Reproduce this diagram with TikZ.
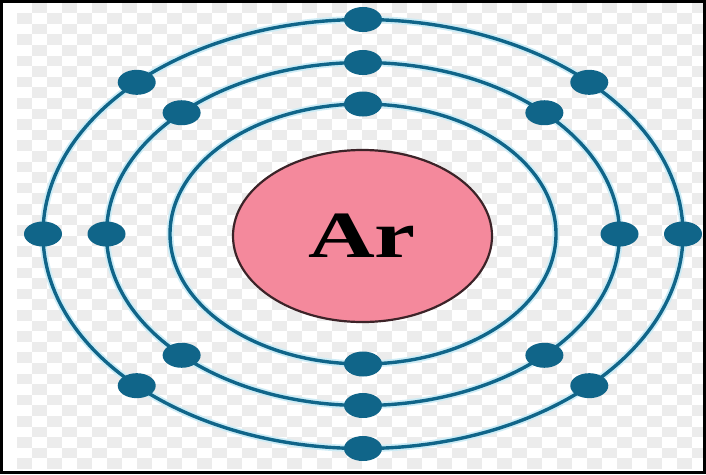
\documentclass[tikz,border=0pt]{standalone}
\usepackage{fontspec}
\newfontfamily\arfont{Liberation Serif}
\usetikzlibrary{shapes.geometric}
\definecolor{teal1}{RGB}{16,101,137}
\definecolor{halo}{RGB}{205,236,246}
\definecolor{pinkn}{RGB}{244,137,156}
\definecolor{rimn}{RGB}{60,35,40}
\definecolor{checkg}{RGB}{236,236,236}
\tikzset{
  orbit/.style={draw=teal1, line width=3.4pt},
  orbithalo/.style={draw=halo, line width=7pt},
  electron/.style={ellipse, fill=teal1, minimum width=38pt, minimum height=25pt, inner sep=0pt},
  nucleus/.style={ellipse, fill=pinkn, draw=rimn, line width=2.2pt, minimum width=259pt, minimum height=172pt, inner sep=0pt},
  checker/.style={fill=checkg},
}
\begin{document}
\begin{tikzpicture}[x=1pt,y=-1pt]
\useasboundingbox (0,0) rectangle (706,474);
\fill[white] (0,0) rectangle (706,474);
% checkerboard background
\foreach \i in {0,...,45}{
  \pgfmathtruncatemacro\off{mod(\i+1,2)}
  \foreach \j in {0,...,21}{
    \fill[checker] ({17+15*\i},{2.5+10.6*(2*\j+\off)}) rectangle ++(15,10.6);
  }
}
\fill[white] (0,469) rectangle (706,474);
% orbits
\coordinate (c) at (363,234);
\foreach \rx/\ry in {193/130, 256.5/171.5, 320/214.5}{
  \draw[orbithalo] (c) ellipse [x radius=\rx, y radius=\ry];
}
\foreach \rx/\ry in {193/130, 256.5/171.5, 320/214.5}{
  \draw[orbit] (c) ellipse [x radius=\rx, y radius=\ry];
}
% nucleus
\node[nucleus] (nuc) at (362.5,236) {};
\node[anchor=base, inner sep=0pt] (sym) at (362,257) {\arfont\bfseries\fontsize{66}{66}\selectfont\scalebox{1.4}[1]{Ar}};
% inner shell electrons
\node[electron] (i1) at (363,104) {};
\node[electron] (i2) at (363,364) {};
% middle shell electrons
\foreach \a [count=\k] in {0,45,...,315}{
  \node[electron] (m\k) at ({363+256.5*cos(\a)},{234+171.5*sin(\a)}) {};
}
% outer shell electrons
\foreach \a [count=\k] in {0,45,...,315}{
  \node[electron] (o\k) at ({363+320*cos(\a)},{234+214.5*sin(\a)}) {};
}
% frame
\draw[black, line width=2.6pt] (1.3,1.3) rectangle (704.7,472.7);
\end{tikzpicture}
\end{document}
